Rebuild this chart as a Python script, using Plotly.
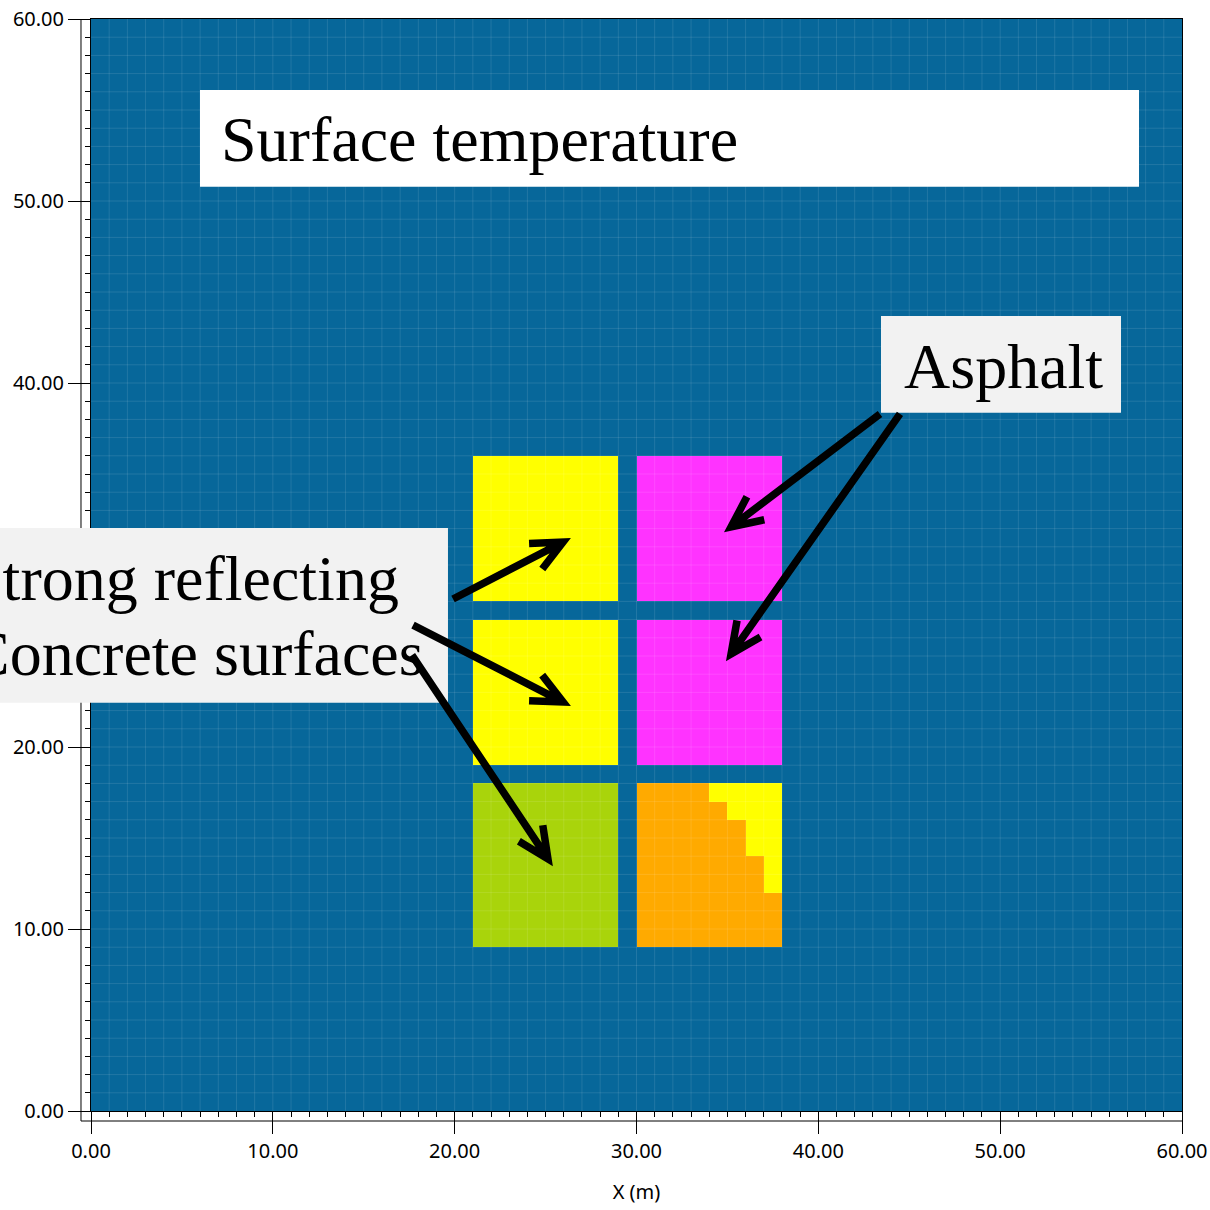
import numpy as np
import plotly.graph_objects as go

# ---------------- data ----------------
grid_n = 60                      # 60 x 60 cells of 1 m
# surface blocks: 1 = concrete (hot/yellow), 2 = asphalt (magenta), 3 = concrete (green), 4 = asphalt (orange)
block_x0 = [21, 30, 21, 30, 21, 30]
block_x1 = [29, 38, 29, 38, 29, 38]
block_y0 = [28, 28, 19, 19, 9, 9]
block_y1 = [36, 36, 27, 27, 18, 18]
block_class = [1, 2, 1, 2, 3, 4]
# yellow staircase inside the orange block (row y, starting x, up to x=38)
stair_y = [17, 16, 15, 14, 13, 12]
stair_x0 = [34, 35, 36, 36, 37, 37]
stair_x1 = [38, 38, 38, 38, 38, 38]
stair_class = [1, 1, 1, 1, 1, 1]

class_colors = ["#07679a", "#ffff00", "#ff33ff", "#a9d40b", "#ffaa00"]

x_ticks = [0, 10, 20, 30, 40, 50, 60]
y_ticks = [0, 10, 20, 30, 40, 50, 60]

# annotation arrows (tail -> tip), in metres
arrow_tail_x = [19.91, 17.71, 17.65, 43.39, 44.49]
arrow_tail_y = [28.13, 26.70, 25.05, 38.30, 38.30]
arrow_tip_x = [25.96, 25.96, 25.13, 35.20, 35.20]
arrow_tip_y = [31.26, 22.47, 13.85, 32.09, 25.11]

# ---------------- build grid ----------------
z = np.zeros((grid_n, grid_n), dtype=int)
for x0, x1, y0, y1, c in zip(block_x0, block_x1, block_y0, block_y1, block_class):
    z[y0:y1, x0:x1] = c
for yy, x0, x1, c in zip(stair_y, stair_x0, stair_x1, stair_class):
    z[yy, x0:x1] = c

centers = np.arange(grid_n) + 0.5
ncls = len(class_colors)
colorscale = []
for i, col in enumerate(class_colors):
    lo = max(0.0, (i - 0.5) / (ncls - 1))
    hi = min(1.0, (i + 0.5) / (ncls - 1))
    colorscale.append([lo, col])
    colorscale.append([hi, col])

fig = go.Figure()
fig.add_trace(go.Heatmap(
    x=centers, y=centers, z=z, zmin=0, zmax=ncls - 1,
    colorscale=colorscale, showscale=False, hoverinfo="skip", zsmooth=False,
))

# faint cell grid overlay
gx, gy = [], []
for k in range(1, grid_n):
    gx += [k, k, None]
    gy += [0, grid_n, None]
    gx += [0, grid_n, None]
    gy += [k, k, None]
fig.add_trace(go.Scatter(x=gx, y=gy, mode="lines",
                         line=dict(color="rgba(255,255,255,0.11)", width=1),
                         hoverinfo="skip", showlegend=False))

# ---------------- shapes ----------------
shapes = []
# offset L-frame
shapes.append(dict(type="line", xref="paper", yref="paper", x0=-0.00917, x1=-0.00917,
                   y0=-0.00916, y1=1.0, line=dict(color="black", width=1)))
shapes.append(dict(type="line", xref="paper", yref="paper", x0=-0.00917, x1=1.0,
                   y0=-0.00916, y1=-0.00916, line=dict(color="black", width=1)))
# label boxes
shapes.append(dict(type="rect", xref="paper", yref="paper", x0=0.0999, x1=0.9606,
                   y0=0.8464, y1=0.9350, fillcolor="#ffffff", line=dict(width=0)))
shapes.append(dict(type="rect", xref="paper", yref="paper", x0=0.7241, x1=0.9441,
                   y0=0.6395, y1=0.7280, fillcolor="#f2f2f2", line=dict(width=0)))
shapes.append(dict(type="rect", xref="paper", yref="paper", x0=-0.15, x1=0.3272,
                   y0=0.3739, y1=0.5339, fillcolor="#f2f2f2", line=dict(width=0)))

# arrows with open chevron heads
head_len = 1.87
head_ang = np.deg2rad(25)
for tx, ty, hx, hy in zip(arrow_tail_x, arrow_tail_y, arrow_tip_x, arrow_tip_y):
    ang = np.arctan2(ty - hy, tx - hx)
    a1x = hx + head_len * np.cos(ang + head_ang)
    a1y = hy + head_len * np.sin(ang + head_ang)
    a2x = hx + head_len * np.cos(ang - head_ang)
    a2y = hy + head_len * np.sin(ang - head_ang)
    path = (f"M {tx} {ty} L {hx} {hy} "
            f"M {a1x} {a1y} L {hx} {hy} L {a2x} {a2y}")
    shapes.append(dict(type="path", xref="x", yref="y", path=path,
                       line=dict(color="black", width=7.5), layer="above"))

# ---------------- text ----------------
serif = dict(family="Liberation Serif, Times New Roman, serif", size=64, color="black")
annotations = [
    dict(text="Surface temperature", xref="paper", yref="paper", x=0.1173, y=0.8897,
         xanchor="left", yanchor="middle", showarrow=False, font=serif),
    dict(text="Asphalt", xref="paper", yref="paper", x=0.7433, y=0.6819,
         xanchor="left", yanchor="middle", showarrow=False, font=serif),
    dict(text="Strong reflecting", xref="paper", yref="paper", x=-0.1155, y=0.4877,
         xanchor="left", yanchor="middle", showarrow=False, font=serif),
    dict(text="Concrete surfaces", xref="paper", yref="paper", x=-0.1155, y=0.4190,
         xanchor="left", yanchor="middle", showarrow=False, font=serif),
]

tickfont = dict(family="Noto Sans, DejaVu Sans, sans-serif", size=20, color="black")
axis_common = dict(
    range=[0, 60], tickvals=x_ticks, tickformat=".2f",
    ticks="outside", ticklen=22, tickwidth=1, tickcolor="black",
    showline=True, mirror=True, linecolor="black", linewidth=1,
    showgrid=False, zeroline=False, tickfont=tickfont, automargin=False,
    minor=dict(dtick=1, ticks="outside", ticklen=5, tickcolor="black", tickwidth=1, showgrid=False),
)

fig.update_layout(
    width=1210, height=1210,
    margin=dict(l=91, r=28, t=19, b=99),
    paper_bgcolor="white", plot_bgcolor="#07679a",
    showlegend=False,
    xaxis=dict(**axis_common,
               title=dict(text="X (m)", font=tickfont, standoff=21)),
    yaxis=dict(**{**axis_common, "tickvals": y_ticks}),
    shapes=shapes,
    annotations=annotations,
)

fig.write_html("out.html",
               config={"displayModeBar": False},
               post_script="document.body.style.margin='0';document.body.style.padding='0';")
